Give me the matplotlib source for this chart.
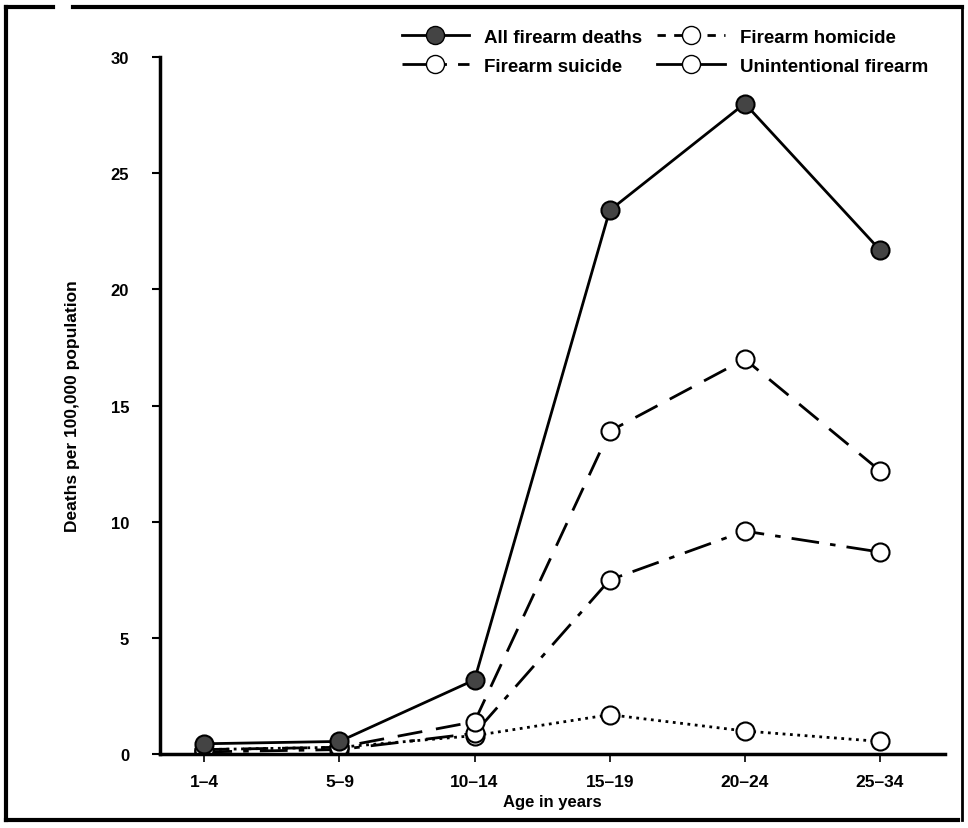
import matplotlib.pyplot as plt
from matplotlib.lines import Line2D

ages = ['1–4', '5–9', '10–14', '15–19', '20–24', '25–34']
all_deaths = [0.45, 0.55, 3.2, 23.4, 28.0, 21.7]
homicide = [0.2, 0.3, 1.4, 13.9, 17.0, 12.2]
suicide = [0.1, 0.2, 0.9, 7.5, 9.6, 8.7]
unintentional = [0.2, 0.3, 0.8, 1.7, 1.0, 0.55]

plt.rcParams['font.family'] = ['Liberation Sans', 'DejaVu Sans']
plt.rcParams['font.weight'] = 'bold'

fig = plt.figure(figsize=(9.68, 8.29), dpi=100)
ax = fig.add_axes([0.165, 0.089, 0.811, 0.841])
x = range(len(ages))

ms = 13
ax.plot(x, unintentional, ls=':', color='black', lw=2, marker='o', ms=ms,
        mfc='white', mec='black', mew=1.5)
ax.plot(x, suicide, ls=(0, (10, 4, 2, 4)), color='black', lw=2, marker='o', ms=ms,
        mfc='white', mec='black', mew=1.5)
ax.plot(x, homicide, ls=(0, (9, 5)), color='black', lw=2, marker='o', ms=ms,
        mfc='white', mec='black', mew=1.5)
ax.plot(x, all_deaths, ls='-', color='black', lw=2, marker='o', ms=ms,
        mfc='#444444', mec='black', mew=1.5)

ax.set_xlim(-0.33, 5.48)
ax.set_ylim(0, 30)
ax.set_xticks(list(x))
ax.set_xticklabels(ages, fontsize=12.5, fontweight='bold')
ax.set_yticks([0, 5, 10, 15, 20, 25, 30])
ax.set_yticklabels(['0', '5', '10', '15', '20', '25', '30'], fontsize=12, fontweight='bold')
ax.tick_params(axis='y', length=6, width=1.5, pad=16)
ax.tick_params(axis='x', length=6, width=1.2, pad=8)
ax.spines['top'].set_visible(False)
ax.spines['right'].set_visible(False)
ax.spines['left'].set_linewidth(2.5)
ax.spines['bottom'].set_linewidth(2.5)
ax.set_xlabel('Age in years', fontsize=12, fontweight='bold', labelpad=4)
ax.set_ylabel('Deaths per 100,000 population', fontsize=12.5, fontweight='bold', labelpad=22)

handles = [
    Line2D([], [], color='black', lw=2, marker='o', ms=ms, mfc='#444444', mec='black'),
    Line2D([], [], color='black', lw=2, ls=(0, (10, 4, 2, 4)), marker='o', ms=ms, mfc='white', mec='black'),
    Line2D([], [], color='black', lw=2, ls=(0, (3, 3)), marker='o', ms=ms, mfc='white', mec='black'),
    Line2D([], [], color='black', lw=2, marker='o', ms=ms, mfc='white', mec='black'),
]
labels = ['All firearm deaths', 'Firearm suicide', 'Firearm homicide', 'Unintentional firearm']
ax.legend(handles, labels, ncol=2, frameon=False, loc='upper right',
          bbox_to_anchor=(1.0, 1.065), fontsize=13.5, handlelength=3.6,
          columnspacing=0.8, labelspacing=0.65, handletextpad=0.8)

# scan border
fig.add_artist(Line2D([0.006, 0.006], [0.01, 0.99], color='black', lw=3, transform=fig.transFigure))
fig.add_artist(Line2D([0.006, 0.99], [0.01, 0.01], color='black', lw=3, transform=fig.transFigure))
fig.add_artist(Line2D([0.994, 0.994], [0.01, 0.99], color='black', lw=2, transform=fig.transFigure))
fig.add_artist(Line2D([0.006, 0.055], [0.99, 0.99], color='black', lw=3, transform=fig.transFigure))
fig.add_artist(Line2D([0.075, 0.994], [0.99, 0.99], color='black', lw=3, transform=fig.transFigure))

fig.savefig('out.png', dpi=100)
